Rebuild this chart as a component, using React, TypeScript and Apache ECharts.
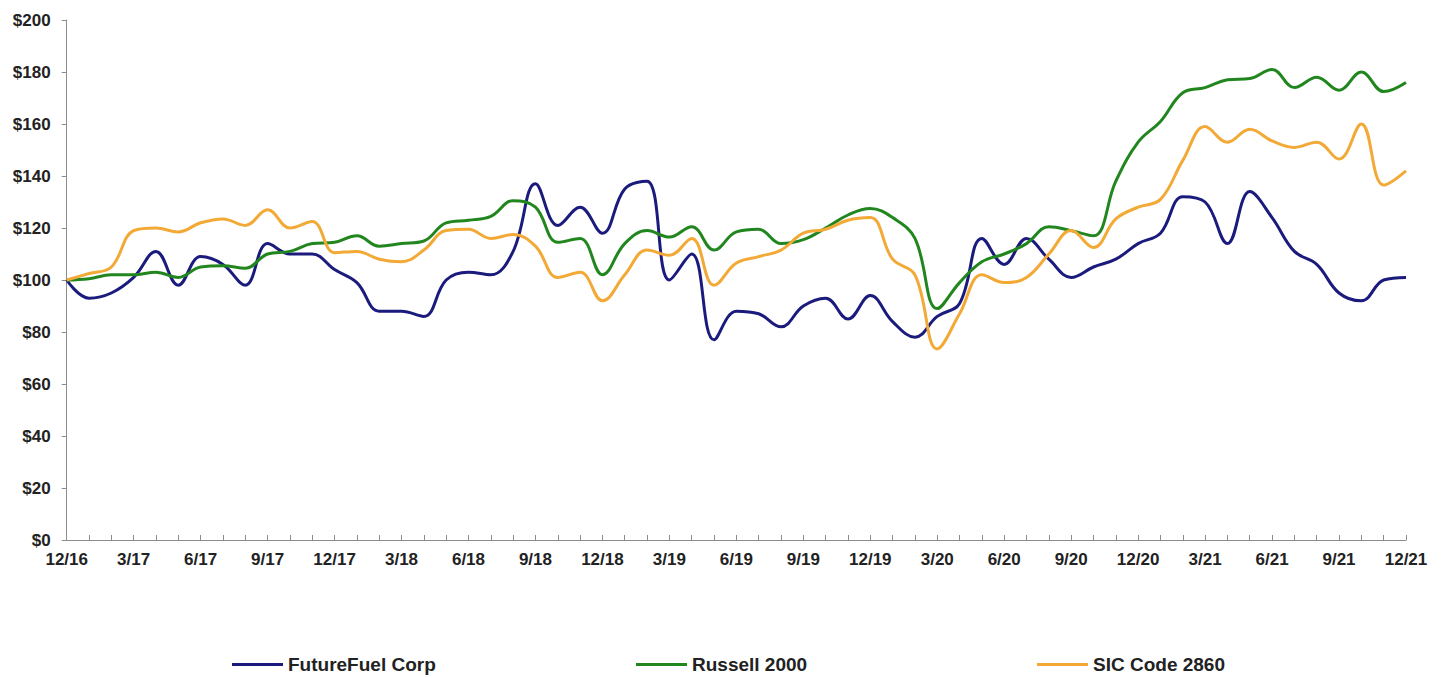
import React, { useEffect, useRef } from "react";
import * as echarts from "echarts";

const months = [
  "12/16", "1/17", "2/17", "3/17", "4/17", "5/17", "6/17", "7/17", "8/17", "9/17", "10/17", "11/17",
  "12/17", "1/18", "2/18", "3/18", "4/18", "5/18", "6/18", "7/18", "8/18", "9/18", "10/18", "11/18",
  "12/18", "1/19", "2/19", "3/19", "4/19", "5/19", "6/19", "7/19", "8/19", "9/19", "10/19", "11/19",
  "12/19", "1/20", "2/20", "3/20", "4/20", "5/20", "6/20", "7/20", "8/20", "9/20", "10/20", "11/20",
  "12/20", "1/21", "2/21", "3/21", "4/21", "5/21", "6/21", "7/21", "8/21", "9/21", "10/21", "11/21",
  "12/21",
];

const futureFuel = [
  100, 93, 95, 101, 111, 98, 109, 106, 98, 114, 110, 110,
  104, 99, 88, 88, 86, 100, 103, 102, 111, 137, 121, 128,
  118, 135, 138, 100, 110, 77, 88, 87, 82, 90, 93, 85,
  94, 84, 78, 86, 91, 116, 106, 116, 108, 101, 105, 108,
  114, 118, 132, 130, 114, 134, 124, 111, 106, 95, 92, 100,
  101,
];

const russell2000 = [
  100, 100.5, 102, 102, 103, 101, 105, 105.5, 104.5, 110, 111, 114,
  114.5, 117, 113, 114, 115, 122, 123, 124.5, 130.5, 128, 114.5, 116,
  102, 114, 119, 116.5, 120.5, 111.5, 118.5, 119.5, 114, 115.5, 120, 125,
  127.5, 124, 116, 89, 99, 107, 110, 114, 120.5, 119, 117, 138,
  153, 161, 172, 174, 177, 177.5, 181, 174, 178, 173, 180, 172.5,
  176,
];

const sic2860 = [
  100, 102.5, 105, 119, 120, 118.5, 122, 123.5, 121, 127, 120, 122.5,
  110.5, 111, 108, 107, 111.5, 119, 119.5, 116, 117.5, 113, 101, 103,
  92, 102, 111.5, 109.5, 116, 98, 106.5, 109, 111.5, 118, 119.5, 123,
  124, 108, 102, 73.5, 87, 102, 99, 101, 110, 119, 112.5, 123.5,
  128, 131, 146, 159, 153, 158, 153.5, 151, 153, 146.5, 160, 136.5,
  142,
];

const seriesNames = ["FutureFuel Corp", "Russell 2000", "SIC Code 2860"];
const seriesColors = ["#1b1b7d", "#22861f", "#f2a935"];
const seriesData = [futureFuel, russell2000, sic2860];
const legendLefts = [232, 636, 1037];

const FONT = "'Liberation Sans', Arial, sans-serif";

export default function App() {
  const ref = useRef<HTMLDivElement>(null);

  useEffect(() => {
    if (!ref.current) return;
    const chart = echarts.init(ref.current, null, { renderer: "svg" });
    const option = {
      animation: false,
      backgroundColor: "#ffffff",
      grid: { left: 66.7, right: 38, top: 20, bottom: 138, containLabel: false },
      xAxis: {
        type: "category",
        data: months,
        boundaryGap: false,
        axisLine: { show: true, lineStyle: { color: "#8c8c8c", width: 1 } },
        axisTick: { show: true, inside: true, length: 5, interval: 0, lineStyle: { color: "#8c8c8c" } },
        axisLabel: {
          interval: 2,
          margin: 11,
          fontSize: 17,
          fontWeight: "bold",
          color: "#222",
          fontFamily: FONT,
        },
        splitLine: { show: false },
      },
      yAxis: {
        type: "value",
        min: 0,
        max: 200,
        interval: 20,
        axisLine: { show: true, lineStyle: { color: "#8c8c8c", width: 1 } },
        axisTick: { show: true, length: 5, lineStyle: { color: "#8c8c8c" } },
        axisLabel: {
          formatter: "${value}",
          margin: 16,
          fontSize: 17,
          fontWeight: "bold",
          color: "#222",
          fontFamily: FONT,
        },
        splitLine: { show: false },
      },
      legend: seriesNames.map((name, i) => ({
        data: [name],
        left: legendLefts[i],
        top: 655,
        padding: 0,
        icon: "rect",
        itemWidth: 51,
        itemHeight: 3,
        textStyle: { fontSize: 19, fontWeight: "bold", color: "#222", fontFamily: FONT },
      })),
      series: seriesNames.map((name, i) => ({
        name,
        type: "line",
        data: seriesData[i],
        smooth: 0.4,
        symbol: "none",
        lineStyle: { width: 3, color: seriesColors[i] },
        itemStyle: { color: seriesColors[i] },
      })),
    };
    chart.setOption(option);
    return () => chart.dispose();
  }, []);

  return (
    <div
      ref={ref}
      style={{ position: "fixed", left: 0, top: 0, width: 1444, height: 678 }}
    />
  );
}
